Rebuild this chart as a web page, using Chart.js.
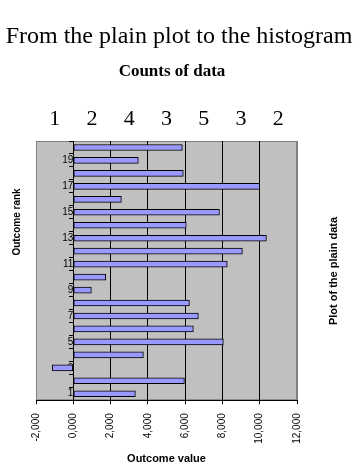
<!DOCTYPE html>
<html>
<head>
<meta charset="utf-8">
<script src="https://cdn.jsdelivr.net/npm/chart.js@4.4.1/dist/chart.umd.min.js"></script>
<style>
  html, body { margin: 0; padding: 0; background: #fff; }
  #wrap { width: 358px; height: 475px; position: relative; }
</style>
</head>
<body>
<div id="wrap"><canvas id="rankChart"></canvas></div>
<script>
// outcome rank (category axis, 1 at the bottom)
const RANKS = ["1", "2", "3", "4", "5", "6", "7", "8", "9", "10",
  "11", "12", "13", "14", "15", "16", "17", "18", "19", "20"];

// outcome value for each rank
const VALUES = [3.33, 5.96, -1.13, 3.76, 8.05, 6.44, 6.71, 6.23, 0.97, 1.74,
  8.26, 9.07, 10.36, 6.06, 7.84, 2.58, 10.0, 5.90, 3.49, 5.85];

// histogram counts written above the plot, one per 2-wide bin
const BIN_CENTERS = [-1, 1, 3, 5, 7, 9, 11];
const BIN_COUNTS = [1, 2, 4, 3, 5, 3, 2];

const X_MIN = -2;
const X_MAX = 12;
const X_STEP = 2;

const TITLE = 'From the plain plot to the histogram';
const SUBTITLE = 'Counts of data';

const SERIF = "'Liberation Serif', 'Times New Roman', serif";
const SANS = "'Liberation Sans', Arial, sans-serif";

// grey plot area, titles, counts row and side titles
// (titles drawn here so they can use the full canvas width)
const decorPlugin = {
  id: 'decor',
  beforeDraw(chart) {
    const { ctx, chartArea: a } = chart;
    ctx.save();
    ctx.fillStyle = '#c0c0c0';
    ctx.fillRect(a.left, a.top, a.right - a.left, a.bottom - a.top);
    ctx.strokeStyle = '#808080';
    ctx.lineWidth = 1;
    ctx.strokeRect(a.left + 0.5, a.top + 0.5, a.right - a.left - 1, a.bottom - a.top - 1);
    ctx.restore();
  },
  afterDraw(chart) {
    const { ctx, chartArea: a, width } = chart;
    const xs = chart.scales.x;
    ctx.save();
    ctx.fillStyle = '#000';
    ctx.textAlign = 'center';
    ctx.textBaseline = 'middle';

    ctx.font = '24px ' + SERIF;
    ctx.fillText(TITLE, width / 2, 37);

    ctx.font = 'bold 17px ' + SERIF;
    ctx.fillText(SUBTITLE, width / 2 - 7, 72);

    // counts of data
    ctx.font = '22px ' + SERIF;
    BIN_CENTERS.forEach((c, i) => {
      ctx.fillText(String(BIN_COUNTS[i]), xs.getPixelForValue(c), a.top - 22);
    });

    // left title
    ctx.font = 'bold 10px ' + SANS;
    ctx.save();
    ctx.translate(17, 222);
    ctx.rotate(-Math.PI / 2);
    ctx.fillText('Outcome rank', 0, 0);
    ctx.restore();

    // right title
    ctx.font = 'bold 11px ' + SANS;
    ctx.save();
    ctx.translate(334, 271);
    ctx.rotate(-Math.PI / 2);
    ctx.fillText('Plot of the plain data', 0, 0);
    ctx.restore();

    ctx.restore();
  }
};

const ctxRank = document.getElementById('rankChart');
const rankChart = new Chart(ctxRank, {
  type: 'bar',
  data: {
    labels: RANKS,
    datasets: [{
      label: 'Outcome value',
      data: VALUES,
      backgroundColor: '#9999ff',
      borderColor: '#000',
      borderWidth: 1,
      borderSkipped: false,
      barThickness: 6
    }]
  },
  options: {
    indexAxis: 'y',
    responsive: true,
    maintainAspectRatio: false,
    animation: false,
    layout: { padding: { left: 36, right: 61, top: 141, bottom: 1 } },
    plugins: {
      legend: { display: false },
      tooltip: { enabled: false },
      title: { display: false }
    },
    scales: {
      x: {
        type: 'linear',
        min: X_MIN,
        max: X_MAX,
        grid: {
          color: c => (c.tick && (c.tick.value === X_MIN || c.tick.value === X_MAX)) ? '#808080' : '#000',
          tickColor: '#000',
          tickLength: 4
        },
        border: { display: true, color: '#000' },
        ticks: {
          stepSize: X_STEP,
          color: '#000',
          font: { family: SANS, size: 10 },
          minRotation: 90,
          maxRotation: 90,
          padding: 9,
          callback: v => v.toFixed(3).replace('.', ',')
        },
        title: {
          display: true,
          text: 'Outcome value',
          color: '#000',
          font: { family: SANS, size: 11, weight: 'bold' },
          padding: { top: 0, bottom: 8 }
        }
      },
      y: {
        position: { x: 0 },
        reverse: true,
        grid: {
          drawOnChartArea: false,
          drawTicks: true,
          tickLength: 4,
          tickColor: '#000'
        },
        border: { display: true, color: '#000' },
        ticks: {
          autoSkip: false,
          color: '#000',
          font: { family: SANS, size: 10 },
          padding: 6,
          callback: function (value) {
            const lab = this.getLabelForValue(value);
            return Number(lab) % 2 === 1 ? lab : '';
          }
        }
      }
    }
  },
  plugins: [decorPlugin]
});
</script>
</body>
</html>
